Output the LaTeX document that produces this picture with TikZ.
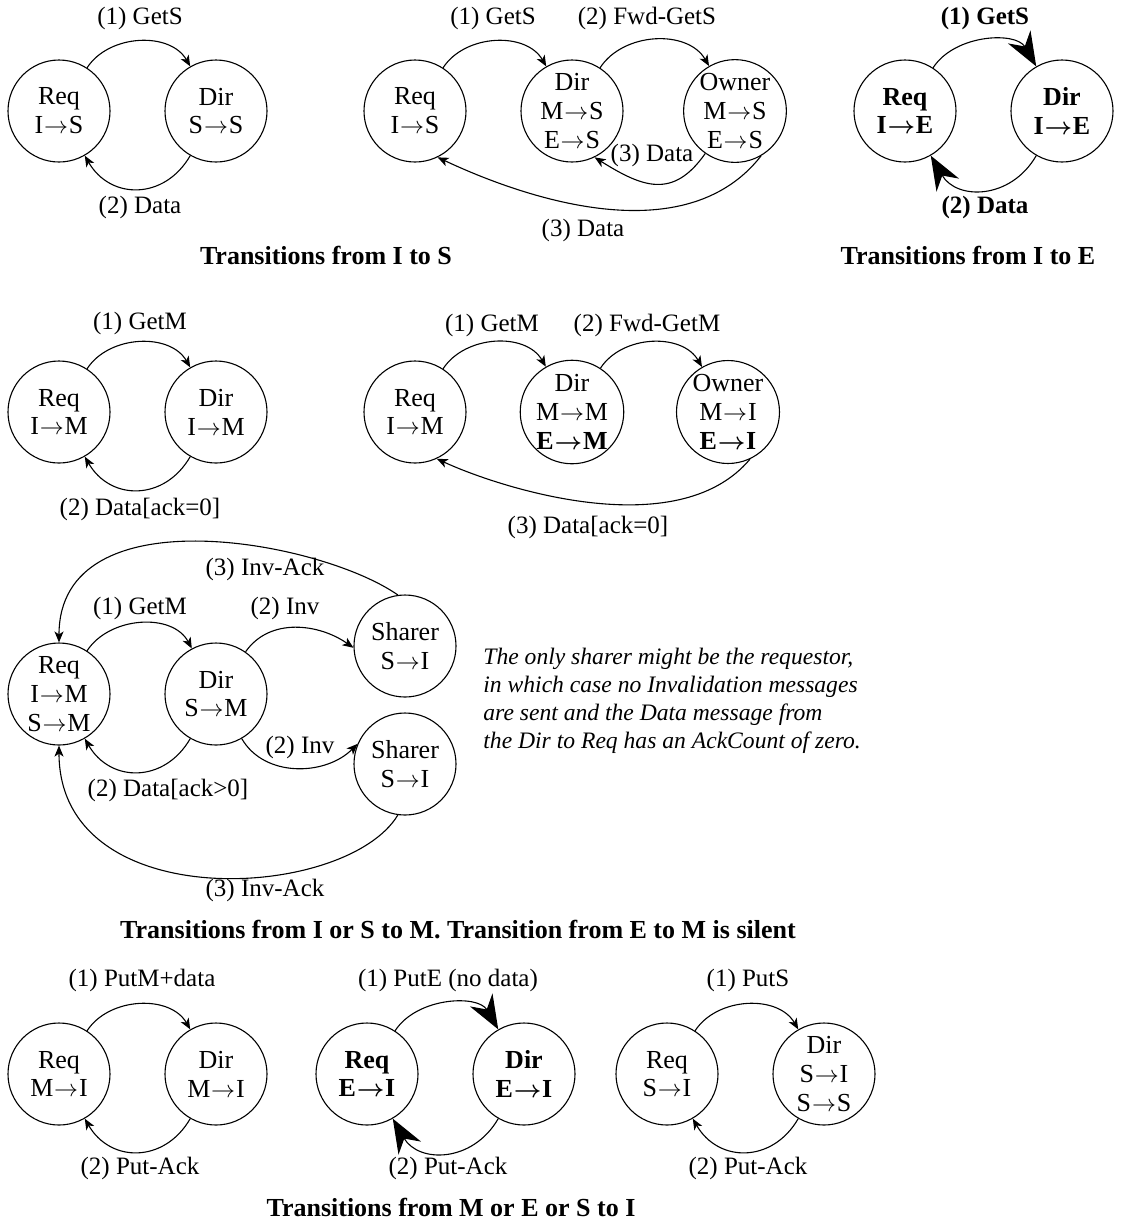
\documentclass[tikz,border=0pt]{standalone}
\usepackage{fontspec}
\setmainfont{Liberation Serif}
\usetikzlibrary{arrows.meta}
\newcommand{\myra}{\kern0.4pt\ensuremath{\rightarrow}\kern0.4pt}
\tikzset{
  st/.style={draw, circle, line width=0.55pt, minimum size=51pt, inner sep=0pt, align=center, font=\fontsize{13}{14.4}\selectfont},
  stt/.style={st},
  stb/.style={st, font=\bfseries\boldmath\fontsize{13}{14.4}\selectfont},
  lbl/.style={font=\fontsize{12.5}{14}\selectfont, inner sep=0pt},
  blbl/.style={font=\bfseries\fontsize{12.5}{14}\selectfont, inner sep=0pt},
  capt/.style={font=\bfseries\fontsize{13}{15}\selectfont, inner sep=0pt},
  note/.style={font=\itshape\fontsize{11.8}{14}\selectfont, inner sep=0pt, align=left},
  arr/.style={line width=0.55pt, -{Stealth[length=5.5pt,width=4.5pt,inset=1.5pt]}},
  bigarr/.style={line width=0.55pt, -{Stealth[length=17pt,width=13pt,inset=5.5pt]}},
}
\begin{document}
\begin{tikzpicture}[x=0.5pt,y=0.5pt]
\useasboundingbox (0,0) rectangle (1121,-1223);
% ---------- Row 1: I to S (simple)
\node[st] (a1) at (59,-111) {Req\\I\myra S};
\node[st] (a2) at (216,-111) {Dir\\S\myra S};
\node[lbl] (al1) at (140,-18) {(1) GetS};
\node[lbl] (al2) at (140,-207) {(2) Data};
\draw[arr] (a1) to[out=57,in=120] (a2);
\draw[arr] (a2) to[out=-120,in=-60,looseness=1.25] (a1);
% ---------- Row 1: I to S (owner)
\node[st] (b1) at (415,-111) {Req\\I\myra S};
\node[stt] (b2) at (572,-111) {Dir\\M\myra S\\E\myra S};
\node[stt] (b3) at (735,-111) {Owner\\M\myra S\\E\myra S};
\node[lbl] (bl1) at (493,-18) {(1) GetS};
\node[lbl] (bl2) at (647,-18) {(2) Fwd-GetS};
\node[lbl] (bl3) at (652,-155) {(3) Data};
\node[lbl] (bl4) at (583,-230) {(3) Data};
\draw[arr] (b1) to[out=57,in=120] (b2);
\draw[arr] (b2) to[out=57,in=120] (b3);
\draw[arr] (b3) to[out=-125,in=-32,looseness=1.3] (b2.-64);
\draw[arr] (b3.-60) .. controls +(-128:139) and +(-25:52) .. (b1.-64);
\node[capt] (capa) at (326,-255) {Transitions from I to S};
% ---------- Row 1: I to E
\node[stb] (c1) at (905,-111) {Req\\I\myra E};
\node[stb] (c2) at (1062,-111) {Dir\\I\myra E};
\node[blbl] (cl1) at (985,-18) {(1) GetS};
\node[blbl] (cl2) at (985,-207) {(2) Data};
\draw[bigarr] (c1) to[out=57,in=120] (c2);
\draw[bigarr] (c2) to[out=-120,in=-60,looseness=1.25] (c1);
\node[capt] (capb) at (968,-255) {Transitions from I to E};
% ---------- Row 2: I to M
\node[st] (d1) at (59,-412) {Req\\I\myra M};
\node[st] (d2) at (216,-412) {Dir\\I\myra M};
\node[lbl] (dl1) at (140,-323) {(1) GetM};
\node[lbl] (dl2) at (140,-509) {(2) Data[ack=0]};
\draw[arr] (d1) to[out=57,in=120] (d2);
\draw[arr] (d2) to[out=-120,in=-60,looseness=1.25] (d1);
\node[st] (e1) at (415,-412) {Req\\I\myra M};
\node[stt] (e2) at (572,-412) {Dir\\M\myra M\\{\bfseries\boldmath E\myra M}};
\node[stt] (e3) at (728,-412) {Owner\\M\myra I\\{\bfseries\boldmath E\myra I}};
\node[lbl] (el1) at (492,-325) {(1) GetM};
\node[lbl] (el2) at (647,-325) {(2) Fwd-GetM};
\node[lbl] (el3) at (588,-527) {(3) Data[ack=0]};
\draw[arr] (e1) to[out=57,in=120] (e2);
\draw[arr] (e2) to[out=57,in=120] (e3);
\draw[arr] (e3.-65) .. controls +(-130:114) and +(-25:65) .. (e1.-65);
% ---------- Row 3: I or S to M
\node[stt] (f1) at (59,-694) {Req\\I\myra M\\S\myra M};
\node[st] (f2) at (216,-694) {Dir\\S\myra M};
\node[st] (f3) at (405,-646) {Sharer\\S\myra I};
\node[st] (f4) at (405,-764) {Sharer\\S\myra I};
\node[lbl] (fl1) at (265,-569) {(3) Inv-Ack};
\node[lbl] (fl2) at (140,-608) {(1) GetM};
\node[lbl] (fl3) at (285,-608) {(2) Inv};
\node[lbl] (fl4) at (300,-747) {(2) Inv};
\node[lbl] (fl5) at (168,-790) {(2) Data[ack>0]};
\node[lbl] (fl6) at (265,-890) {(3) Inv-Ack};
\draw[arr] (f1) to[out=57,in=118] (f2);
\draw[arr] (f2) to[out=55,in=145] (f3.182);
\draw[arr] (f2) to[out=-60,in=-135] (f4.157);
\draw[arr] (f2) to[out=-120,in=-60,looseness=1.25] (f1);
\draw[arr] (f3.98) .. controls +(145:95) and +(90:150) .. (f1.90);
\draw[arr] (f4.-98) .. controls +(-121:100) and +(-90:172) .. (f1.-90);
\node[note, anchor=north west] (nt) at (483,-648) {The only sharer might be the requestor,\\in which case no Invalidation messages\\are sent and the Data message from\\the Dir to Req has an AckCount of zero.};
\node[capt] (capc) at (458,-930) {Transitions from I or S to M. Transition from E to M is silent};
% ---------- Row 5: to I
\node[st] (g1) at (59,-1074) {Req\\M\myra I};
\node[st] (g2) at (216,-1074) {Dir\\M\myra I};
\node[lbl] (gl1) at (142,-980) {(1) PutM+data};
\node[lbl] (gl2) at (140,-1168) {(2) Put-Ack};
\draw[arr] (g1) to[out=57,in=120] (g2);
\draw[arr] (g2) to[out=-120,in=-60,looseness=1.25] (g1);
\node[stb] (h1) at (367,-1074) {Req\\E\myra I};
\node[stb] (h2) at (524,-1074) {Dir\\E\myra I};
\node[lbl] (hl1) at (448,-980) {(1) PutE (no data)};
\node[lbl] (hl2) at (448,-1168) {(2) Put-Ack};
\draw[bigarr] (h1) to[out=57,in=120] (h2);
\draw[bigarr] (h2) to[out=-120,in=-60,looseness=1.25] (h1);
\node[st] (i1) at (667,-1074) {Req\\S\myra I};
\node[stt] (i2) at (824,-1074) {Dir\\S\myra I\\S\myra S};
\node[lbl] (il1) at (748,-980) {(1) PutS};
\node[lbl] (il2) at (748,-1168) {(2) Put-Ack};
\draw[arr] (i1) to[out=57,in=120] (i2);
\draw[arr] (i2) to[out=-120,in=-60,looseness=1.25] (i1);
\node[capt] (capd) at (451,-1207) {Transitions from M or E or S to I};
\end{tikzpicture}
\end{document}
